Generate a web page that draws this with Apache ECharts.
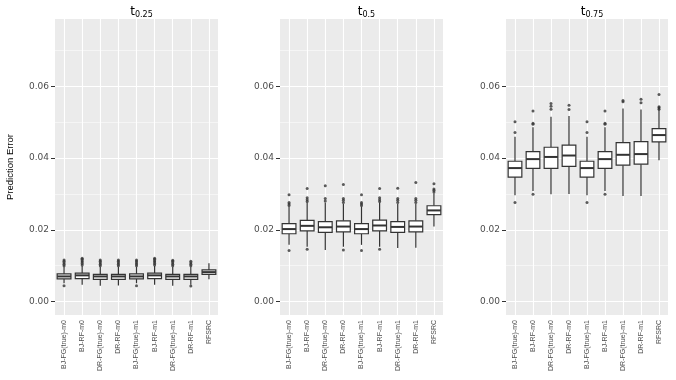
<!DOCTYPE html>
<html>
<head>
<meta charset="utf-8">
<script src="https://cdn.jsdelivr.net/npm/echarts@6/dist/echarts.min.js"></script>
<style>
html, body { margin: 0; padding: 0; background: #fff; }
#chart { width: 676px; height: 380px; }
</style>
</head>
<body>
<div id="chart"></div>
<script>
const categories = [
  'BJ-FG(true)-m0', 'BJ-RF-m0', 'DR-FG(true)-m0', 'DR-RF-m0',
  'BJ-FG(true)-m1', 'BJ-RF-m1', 'DR-FG(true)-m1', 'DR-RF-m1', 'RFSRC'
]
const timeLabels = ['0.25', '0.5', '0.75']
const yTicks = [0, 0.02, 0.04, 0.06]
const yMinorTicks = [0.01, 0.03, 0.05, 0.07]

// [lower whisker, q1, median, q3, upper whisker] for each method
const boxT025 = [
  [0.0051, 0.0063, 0.0070, 0.0077, 0.0097],
  [0.0047, 0.0064, 0.0073, 0.0079, 0.0099],
  [0.0044, 0.0062, 0.0070, 0.0076, 0.0097],
  [0.0045, 0.0062, 0.0070, 0.0076, 0.0097],
  [0.0051, 0.0063, 0.0070, 0.0077, 0.0097],
  [0.0047, 0.0064, 0.0073, 0.0079, 0.0099],
  [0.0044, 0.0062, 0.0070, 0.0076, 0.0097],
  [0.0047, 0.0062, 0.0070, 0.0076, 0.0097],
  [0.0062, 0.0076, 0.0082, 0.0088, 0.0107]
]
const boxT05 = [
  [0.0158, 0.0189, 0.0202, 0.0217, 0.0265],
  [0.0153, 0.0197, 0.0211, 0.0226, 0.0276],
  [0.0144, 0.0193, 0.0207, 0.0223, 0.0276],
  [0.0153, 0.0194, 0.0209, 0.0225, 0.0272],
  [0.0158, 0.0189, 0.0202, 0.0217, 0.0265],
  [0.0153, 0.0197, 0.0212, 0.0227, 0.0276],
  [0.0149, 0.0193, 0.0208, 0.0223, 0.0272],
  [0.0150, 0.0194, 0.0209, 0.0225, 0.0272],
  [0.0209, 0.0242, 0.0254, 0.0267, 0.0302]
]
const boxT075 = [
  [0.0296, 0.0347, 0.0372, 0.0391, 0.0459],
  [0.0308, 0.0371, 0.0397, 0.0418, 0.0486],
  [0.0299, 0.0371, 0.0403, 0.0430, 0.0515],
  [0.0300, 0.0377, 0.0407, 0.0436, 0.0517],
  [0.0296, 0.0347, 0.0372, 0.0391, 0.0459],
  [0.0308, 0.0371, 0.0397, 0.0418, 0.0486],
  [0.0294, 0.0380, 0.0409, 0.0443, 0.0538],
  [0.0294, 0.0383, 0.0411, 0.0446, 0.0535],
  [0.0394, 0.0445, 0.0464, 0.0482, 0.0543]
]

// outliers: [method index, value]
const outT025 = [
  [0, 0.0044], [0, 0.0100], [0, 0.0104], [0, 0.0108], [0, 0.0112], [0, 0.0116],
  [1, 0.0102], [1, 0.0106], [1, 0.0110], [1, 0.0114], [1, 0.0118], [1, 0.0121],
  [2, 0.0100], [2, 0.0104], [2, 0.0108], [2, 0.0112], [2, 0.0116],
  [3, 0.0100], [3, 0.0104], [3, 0.0108], [3, 0.0112], [3, 0.0116],
  [4, 0.0044], [4, 0.0100], [4, 0.0104], [4, 0.0108], [4, 0.0112], [4, 0.0116],
  [5, 0.0102], [5, 0.0106], [5, 0.0110], [5, 0.0114], [5, 0.0118], [5, 0.0121],
  [6, 0.0100], [6, 0.0104], [6, 0.0108], [6, 0.0112], [6, 0.0115],
  [7, 0.0043], [7, 0.0100], [7, 0.0104], [7, 0.0108], [7, 0.0112]
]
const outT05 = [
  [0, 0.0142], [0, 0.0268], [0, 0.0272], [0, 0.0276], [0, 0.0298],
  [1, 0.0146], [1, 0.0279], [1, 0.0284], [1, 0.0289], [1, 0.0315],
  [2, 0.0280], [2, 0.0287], [2, 0.0323],
  [3, 0.0144], [3, 0.0276], [3, 0.0282], [3, 0.0287], [3, 0.0326],
  [4, 0.0142], [4, 0.0268], [4, 0.0272], [4, 0.0276], [4, 0.0298],
  [5, 0.0146], [5, 0.0279], [5, 0.0284], [5, 0.0289], [5, 0.0315],
  [6, 0.0276], [6, 0.0282], [6, 0.0287], [6, 0.0316],
  [7, 0.0276], [7, 0.0282], [7, 0.0287], [7, 0.0332],
  [8, 0.0305], [8, 0.0310], [8, 0.0314], [8, 0.0328]
]
const outT075 = [
  [0, 0.0276], [0, 0.0471], [0, 0.0501],
  [1, 0.0299], [1, 0.0494], [1, 0.0497], [1, 0.0531],
  [2, 0.0536], [2, 0.0544], [2, 0.0552],
  [3, 0.0535], [3, 0.0547],
  [4, 0.0276], [4, 0.0471], [4, 0.0501],
  [5, 0.0299], [5, 0.0494], [5, 0.0497], [5, 0.0531],
  [6, 0.0557], [6, 0.0560],
  [7, 0.0554], [7, 0.0564],
  [8, 0.0536], [8, 0.0540], [8, 0.0543], [8, 0.0577]
]

const panels = [
  { box: boxT025, out: outT025 },
  { box: boxT05, out: outT05 },
  { box: boxT075, out: outT075 }
]
const gridLefts = [55, 280, 506]
const gridWidths = [163, 163, 162]
const gridTop = 19
const gridHeight = 296

const lineColor = '#333333'
const textColor = '#4D4D4D'

const renderBox = (params, api) => {
  const i = api.value(0)
  const lo = api.coord([i, api.value(1)])
  const q1 = api.coord([i, api.value(2)])
  const md = api.coord([i, api.value(3)])
  const q3 = api.coord([i, api.value(4)])
  const hi = api.coord([i, api.value(5)])
  const half = api.size([1, 0])[0] * 0.38
  const x = q1[0]
  const stroke = { stroke: lineColor, lineWidth: 1.2 }
  return {
    type: 'group',
    children: [
      { type: 'line', shape: { x1: x, y1: hi[1], x2: x, y2: q3[1] }, style: stroke },
      { type: 'line', shape: { x1: x, y1: q1[1], x2: x, y2: lo[1] }, style: stroke },
      {
        type: 'rect',
        shape: { x: x - half, y: q3[1], width: half * 2, height: q1[1] - q3[1] },
        style: { fill: '#fff', stroke: lineColor, lineWidth: 1.2 }
      },
      { type: 'line', shape: { x1: x - half, y1: md[1], x2: x + half, y2: md[1] }, style: { stroke: lineColor, lineWidth: 2 } }
    ]
  }
}

const grid = []
const xAxis = []
const yAxis = []
const series = []
const title = []

panels.forEach((p, k) => {
  grid.push({
    left: gridLefts[k],
    width: gridWidths[k],
    top: gridTop,
    height: gridHeight,
    show: true,
    backgroundColor: '#EBEBEB',
    borderWidth: 0
  })
  title.push({
    text: '{t|t}{s|' + timeLabels[k] + '}',
    left: gridLefts[k] + gridWidths[k] / 2,
    textAlign: 'center',
    top: 0,
    textStyle: {
      fontWeight: 'normal',
      rich: {
        t: { fontSize: 12, fontFamily: 'DejaVu Sans', fontWeight: 'normal', color: '#000' },
        s: { fontSize: 8, fontFamily: 'DejaVu Sans', fontWeight: 'normal', color: '#000', padding: [6, 0, 0, 0] }
      }
    }
  })
  xAxis.push({
    gridIndex: k,
    type: 'category',
    data: categories,
    boundaryGap: true,
    axisLine: { show: false },
    axisTick: { show: true, alignWithLabel: true, length: 3, lineStyle: { color: lineColor } },
    splitLine: { show: false },
    axisLabel: {
      rotate: 90,
      interval: 0,
      margin: 5,
      fontSize: 7,
      fontFamily: 'Liberation Sans Narrow, Liberation Sans',
      color: textColor
    }
  })
  yAxis.push({
    gridIndex: k,
    type: 'value',
    min: -0.00375,
    max: 0.07875,
    name: k === 0 ? 'Prediction Error' : '',
    nameLocation: 'middle',
    nameGap: 40,
    nameRotate: 90,
    nameTextStyle: { fontSize: 9.5, fontFamily: 'Liberation Sans Narrow, Liberation Sans', color: '#000' },
    axisLine: { show: false },
    splitLine: { show: false },
    axisTick: { show: true, customValues: yTicks, length: 4, lineStyle: { color: lineColor } },
    axisLabel: {
      customValues: yTicks,
      formatter: v => v.toFixed(2),
      margin: 6,
      fontSize: 9,
      fontFamily: 'DejaVu Sans',
      color: textColor
    }
  })
  series.push({
    type: 'custom',
    xAxisIndex: k,
    yAxisIndex: k,
    renderItem: renderBox,
    encode: { x: 0, y: [1, 2, 3, 4, 5] },
    data: p.box.map((b, i) => [i, ...b]),
    z: 3
  })
  const gridLines = [
    ...yTicks.map(v => ({ yAxis: v, lineStyle: { width: 1.1 } })),
    ...yMinorTicks.map(v => ({ yAxis: v, lineStyle: { width: 0.5 } })),
    ...categories.map(c => ({ xAxis: c, lineStyle: { width: 1.1 } }))
  ]
  series.push({
    type: 'scatter',
    xAxisIndex: k,
    yAxisIndex: k,
    data: p.out,
    symbolSize: 3,
    itemStyle: { color: lineColor },
    z: 4,
    markLine: {
      silent: true,
      symbol: 'none',
      z: 1,
      label: { show: false },
      lineStyle: { color: '#fff', type: 'solid' },
      data: gridLines
    }
  })
})

const chart = echarts.init(document.getElementById('chart'))
chart.setOption({
  animation: false,
  title,
  grid,
  xAxis,
  yAxis,
  series
})
</script>
</body>
</html>
